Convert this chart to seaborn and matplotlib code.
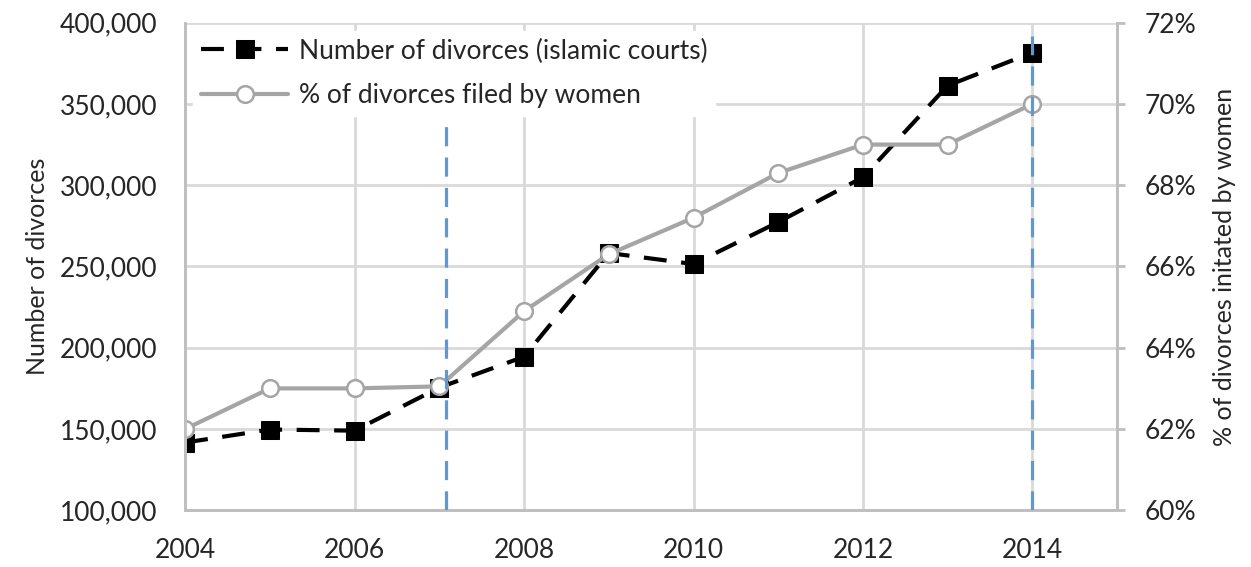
import pandas as pd
import matplotlib
matplotlib.use("Agg")
import matplotlib.pyplot as plt
import matplotlib.ticker as mtick
import seaborn as sns

# datos
anios = [2004, 2005, 2006, 2007, 2008, 2009, 2010, 2011, 2012, 2013, 2014]
divorcios = [141700, 149700, 149000, 175500, 194500, 258300, 251500, 277300, 304900, 361300, 381600]
pct_mujeres = [62.0, 63.0, 63.0, 63.05, 64.9, 66.3, 67.2, 68.3, 69.0, 69.0, 70.0]
lineas_azules = [2007.08, 2014]

df = pd.DataFrame({'anio': anios, 'divorcios': divorcios, 'pct': pct_mujeres})

sns.set_style("white")
plt.rcParams['font.family'] = ['Lato', 'DejaVu Sans']

gris_grid = '#d9d9d9'
gris_eje = '#bfbfbf'

fig, ax = plt.subplots(figsize=(12.51, 5.67), dpi=100)
ax2 = ax.twinx()

# numero de divorcios (eje izquierdo)
sns.lineplot(data=df, x='anio', y='divorcios', ax=ax, color='black', linestyle=(0, (5.5, 3.5)),
             linewidth=3, marker='s', markersize=13.5, markerfacecolor='black',
             markeredgecolor='black', label='Number of divorces (islamic courts)', legend=False)

# porcentaje presentado por mujeres (eje derecho)
sns.lineplot(data=df, x='anio', y='pct', ax=ax2, color='#a5a5a5', linewidth=3,
             marker='o', markersize=12, markerfacecolor='white', markeredgecolor='#a5a5a5',
             markeredgewidth=1.8, label='% of divorces filed by women', legend=False)

for x in lineas_azules:
    ax2.axvline(x, ymin=0, ymax=0.973, color='#5b9bd5', linestyle=(0, (6, 3.5)), linewidth=2.3, zorder=3)

ax.set_xlim(2004, 2015)
ax.set_ylim(100000, 400000)
ax2.set_ylim(60, 72)
ax.set_xticks(range(2004, 2015, 2))
ax.set_yticks(range(100000, 400001, 50000))
ax2.set_yticks(range(60, 73, 2))
ax.yaxis.set_major_formatter(mtick.FuncFormatter(lambda v, p: f"{int(v):,}"))
ax2.yaxis.set_major_formatter(mtick.FuncFormatter(lambda v, p: f"{int(v)}%"))

ax.grid(True, color=gris_grid, linewidth=2)
ax.set_axisbelow(True)
ax2.grid(False)

for a in (ax, ax2):
    a.spines['top'].set_visible(False)
    for s in ('left', 'right', 'bottom'):
        a.spines[s].set_color(gris_eje)
        a.spines[s].set_linewidth(2)
ax.tick_params(axis='y', length=0, labelsize=19, pad=20)
ax.tick_params(axis='x', length=0, labelsize=19, pad=20)
ax2.tick_params(axis='y', length=6, width=2, color=gris_eje, labelsize=19, pad=14)

ax.set_xlabel('')
ax.set_ylabel('Number of divorces', fontsize=18, labelpad=8)
ax2.set_ylabel('% of divorces initated by women', fontsize=18, labelpad=12)

h1, l1 = ax.get_legend_handles_labels()
h2, l2 = ax2.get_legend_handles_labels()
leg = ax2.legend(h1 + h2, l1 + l2, loc='upper left', fontsize=19, frameon=True,
                 facecolor='white', edgecolor='white', framealpha=1, handlelength=3.3,
                 handletextpad=0.4, borderaxespad=0.3, borderpad=0.3, labelspacing=0.75)
leg.set_zorder(10)

plt.subplots_adjust(left=0.148, right=0.893, top=0.96, bottom=0.1)
plt.savefig('out.png', dpi=100)
